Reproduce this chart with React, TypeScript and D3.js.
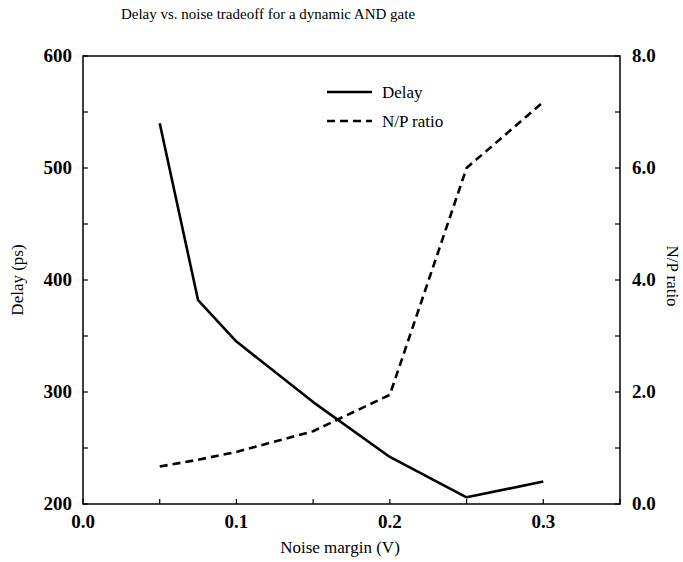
import React, { useEffect, useRef } from 'react';
import * as d3 from 'd3';

const noiseMargin = [0.05, 0.075, 0.1, 0.15, 0.2, 0.25, 0.3];
const delayPs = [540, 382, 345, 291, 242, 206, 220];
const npRatio = [0.67, 0.79, 0.93, 1.3, 1.95, 6.0, 7.18];

const xTicks = [0, 0.05, 0.1, 0.15, 0.2, 0.25, 0.3, 0.35];
const xTickLabels = ['0.0', '', '0.1', '', '0.2', '', '0.3', ''];
const leftTicks = [200, 250, 300, 350, 400, 450, 500, 550, 600];
const rightTicks = [0, 1, 2, 3, 4, 5, 6, 7, 8];

export default function App() {
  const ref = useRef<SVGSVGElement>(null);

  useEffect(() => {
    const width = 683;
    const height = 562;
    const m = { left: 83, right: 620, top: 56, bottom: 504 };
    const font = '"Liberation Serif", "Times New Roman", serif';

    const x = d3.scaleLinear().domain([0, 0.35]).range([m.left, m.right]);
    const yL = d3.scaleLinear().domain([200, 600]).range([m.bottom, m.top]);
    const yR = d3.scaleLinear().domain([0, 8]).range([m.bottom, m.top]);

    const svg = d3.select(ref.current)
      .attr('width', width)
      .attr('height', height)
      .style('position', 'absolute')
      .style('left', 0)
      .style('top', 0)
      .style('background', '#fff');
    svg.selectAll('*').remove();

    // frame
    svg.append('rect')
      .attr('x', m.left).attr('y', m.top)
      .attr('width', m.right - m.left).attr('height', m.bottom - m.top)
      .attr('fill', 'none').attr('stroke', '#000').attr('stroke-width', 1.5);

    // ticks (inward)
    const tk = 5;
    svg.append('g').selectAll('line').data(xTicks).join('line')
      .attr('x1', (d) => x(d)).attr('x2', (d) => x(d))
      .attr('y1', m.bottom).attr('y2', m.bottom - tk)
      .attr('stroke', '#000').attr('stroke-width', 1.2);
    svg.append('g').selectAll('line').data(leftTicks).join('line')
      .attr('x1', m.left).attr('x2', m.left + tk)
      .attr('y1', (d) => yL(d)).attr('y2', (d) => yL(d))
      .attr('stroke', '#000').attr('stroke-width', 1.2);
    svg.append('g').selectAll('line').data(rightTicks).join('line')
      .attr('x1', m.right).attr('x2', m.right - tk)
      .attr('y1', (d) => yR(d)).attr('y2', (d) => yR(d))
      .attr('stroke', '#000').attr('stroke-width', 1.2);

    // tick labels
    svg.append('g').selectAll('text').data(xTicks).join('text')
      .attr('x', (d) => x(d)).attr('y', m.bottom + 24)
      .attr('text-anchor', 'middle')
      .attr('font-family', font).attr('font-size', 19).attr('font-weight', 'bold')
      .text((d, i) => xTickLabels[i]);
    svg.append('g').selectAll('text').data(leftTicks.filter((d) => d % 100 === 0)).join('text')
      .attr('x', m.left - 11).attr('y', (d) => yL(d) + 6)
      .attr('text-anchor', 'end')
      .attr('font-family', font).attr('font-size', 19).attr('font-weight', 'bold')
      .text((d) => String(d));
    svg.append('g').selectAll('text').data(rightTicks.filter((d) => d % 2 === 0)).join('text')
      .attr('x', m.right + 12).attr('y', (d) => yR(d) + 6)
      .attr('text-anchor', 'start')
      .attr('font-family', font).attr('font-size', 19).attr('font-weight', 'bold')
      .text((d) => d.toFixed(1));

    // titles
    svg.append('text')
      .attr('x', 268).attr('y', 19)
      .attr('text-anchor', 'middle')
      .attr('font-family', font).attr('font-size', 15)
      .text('Delay vs. noise tradeoff for a dynamic AND gate');
    svg.append('text')
      .attr('x', 340).attr('y', 553)
      .attr('text-anchor', 'middle')
      .attr('font-family', font).attr('font-size', 17)
      .text('Noise margin (V)');
    svg.append('text')
      .attr('transform', `translate(23, 280) rotate(-90)`)
      .attr('text-anchor', 'middle')
      .attr('font-family', font).attr('font-size', 17)
      .text('Delay (ps)');
    svg.append('text')
      .attr('transform', `translate(667, 276) rotate(90)`)
      .attr('text-anchor', 'middle')
      .attr('font-family', font).attr('font-size', 17)
      .text('N/P ratio');

    // lines
    const delayLine = d3.line<number>()
      .x((d, i) => x(noiseMargin[i]))
      .y((d) => yL(d));
    const npLine = d3.line<number>()
      .x((d, i) => x(noiseMargin[i]))
      .y((d) => yR(d));

    svg.append('path')
      .attr('d', delayLine(delayPs))
      .attr('fill', 'none').attr('stroke', '#000').attr('stroke-width', 2.6)
      .attr('stroke-linejoin', 'round');
    svg.append('path')
      .attr('d', npLine(npRatio))
      .attr('fill', 'none').attr('stroke', '#000').attr('stroke-width', 2.6)
      .attr('stroke-dasharray', '8,5');

    // legend
    const legend = svg.append('g');
    legend.append('line')
      .attr('x1', 327).attr('x2', 372).attr('y1', 92).attr('y2', 92)
      .attr('stroke', '#000').attr('stroke-width', 2.6);
    legend.append('text')
      .attr('x', 382).attr('y', 98)
      .attr('font-family', font).attr('font-size', 17)
      .text('Delay');
    legend.append('line')
      .attr('x1', 327).attr('x2', 372).attr('y1', 121).attr('y2', 121)
      .attr('stroke', '#000').attr('stroke-width', 2.6)
      .attr('stroke-dasharray', '8,5');
    legend.append('text')
      .attr('x', 382).attr('y', 127)
      .attr('font-family', font).attr('font-size', 17)
      .text('N/P ratio');
  }, []);

  return <svg ref={ref}></svg>;
}
